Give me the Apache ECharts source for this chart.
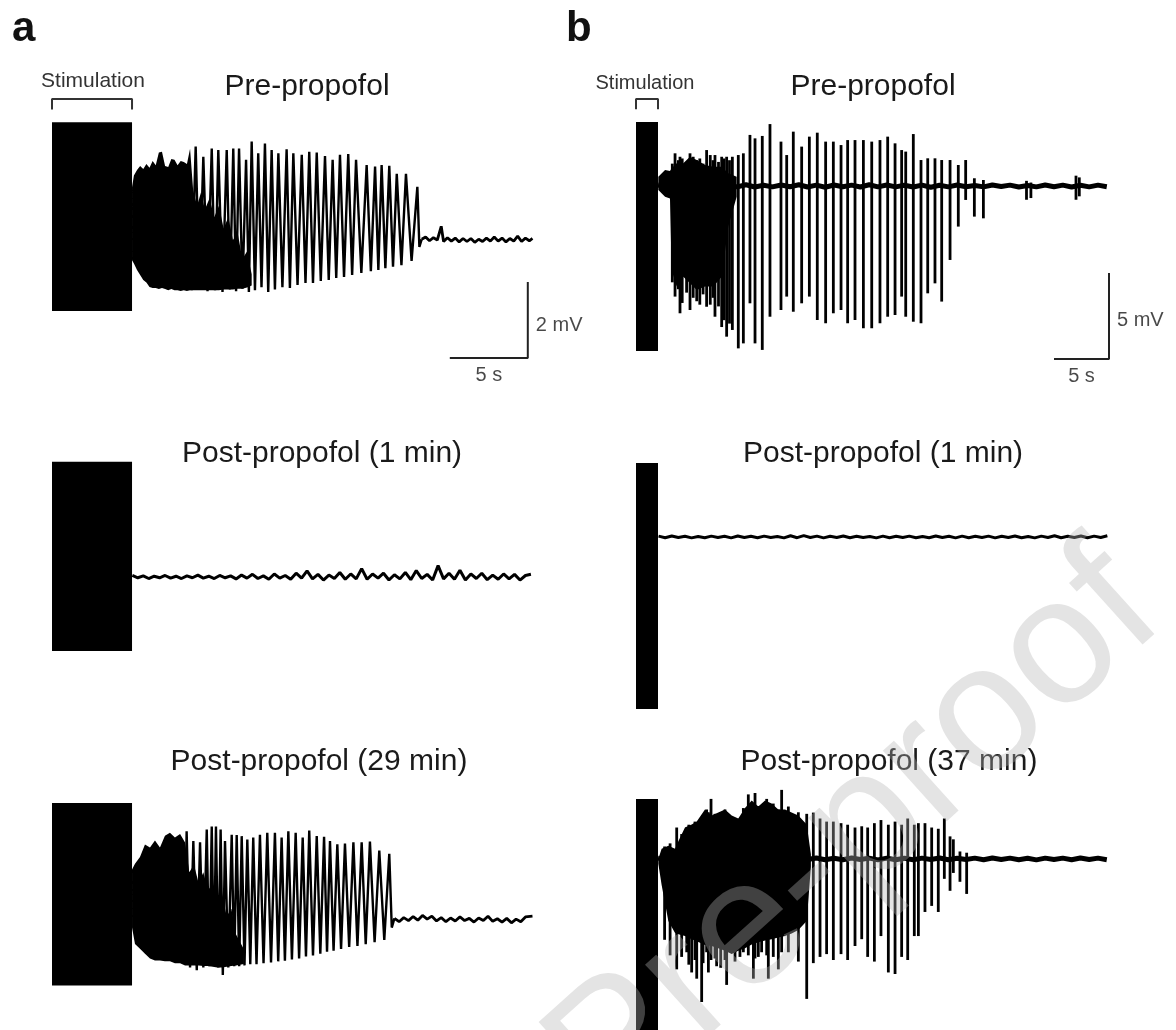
<!DOCTYPE html>
<html>
<head>
<meta charset="utf-8">
<title>Propofol EEG traces</title>
<script src="https://cdn.jsdelivr.net/npm/echarts@6/dist/echarts.min.js"></script>
<style>
  html, body {
    margin: 0;
    padding: 0;
    background: #fff;
  }
  #chart {
    width: 1176px;
    height: 1030px;
  }
</style>
</head>
<body>
<div id="chart"></div>
<script>
// time in s (0 = stimulation onset), amplitude in mV relative to baseline

const panelTitles = ['Pre-propofol', 'Post-propofol (1 min)', 'Post-propofol (29 min)',
  'Pre-propofol', 'Post-propofol (1 min)', 'Post-propofol (37 min)']

// stimulation artefact: [start, end, top, bottom]
const stimBlocks = [
  [0, 5.13, 3.1, -1.87],
  [0, 5.13, 3.03, -1.95],
  [0, 5.13, 3.18, -1.79],
  [0, 2.0, 3.72, -9.59],
  [0, 2.0, 4.3, -10.0],
  [0, 2.0, 3.85, -11.0]
]

// dense after-discharge: [t, upper, lower]
const aPreEnvelope = [
  [5.13, 1.39, -0.53], [5.25, 1.7, -0.62], [5.45, 1.84, -0.79], [5.65, 1.95, -0.92],
  [5.85, 1.87, -1.05], [6.05, 2.0, -1.12], [6.25, 1.9, -1.24], [6.45, 2.08, -1.26],
  [6.65, 1.97, -1.26], [6.85, 2.3, -1.29], [7.05, 2.32, -1.26], [7.25, 1.95, -1.29],
  [7.45, 1.92, -1.32], [7.65, 2.13, -1.29], [7.85, 2.11, -1.32], [8.05, 1.97, -1.32],
  [8.25, 2.08, -1.34], [8.45, 2.05, -1.32], [8.65, 2.0, -1.34], [8.85, 2.4, -1.32],
  [9.05, 1.3, -1.32], [9.3, 0.9, -1.32], [9.55, 1.25, -1.32], [9.8, 0.8, -1.32],
  [10.1, 1.1, -1.32], [10.4, 0.6, -1.32], [10.7, 0.9, -1.32], [11.0, 0.3, -1.3],
  [11.3, 0.6, -1.3], [11.6, 0.0, -1.3], [11.9, 0.2, -1.28], [12.2, -0.5, -1.28],
  [12.5, -0.3, -1.25], [12.8, -0.9, -1.2]
]

const aPost29Envelope = [
  [5.13, 1.37, -0.21], [5.32, 1.53, -0.66], [5.64, 1.71, -0.79], [5.96, 2.05, -0.92],
  [6.28, 1.97, -1.05], [6.6, 2.16, -1.11], [6.92, 1.97, -1.11], [7.24, 2.29, -1.13],
  [7.56, 2.37, -1.13], [7.88, 2.24, -1.18], [8.21, 2.34, -1.18], [8.53, 2.11, -1.24],
  [8.8, 1.3, -1.24], [9.1, 1.5, -1.24], [9.4, 1.0, -1.24], [9.7, 1.3, -1.26],
  [10.0, 0.8, -1.26], [10.3, 1.0, -1.28], [10.6, 0.5, -1.3], [10.9, 0.7, -1.3],
  [11.2, 0.1, -1.28], [11.5, 0.3, -1.26], [11.8, -0.4, -1.24], [12.3, -0.8, -1.2]
]

const bPreEnvelope = [
  [2.03, 0.54, -0.23], [2.64, 0.93, -0.62], [3.09, 0.87, -0.72], [3.24, 1.03, -4.88],
  [3.7, 1.32, -5.85], [4.3, 1.32, -5.27], [4.91, 1.7, -5.66], [5.52, 1.51, -6.05],
  [6.27, 1.22, -5.85], [7.03, 1.12, -5.85], [7.79, 1.12, -5.27], [8.39, 0.74, -2.36],
  [9.15, 0.54, -0.62]
]

const bPost37Envelope = [
  [2.03, 0.0, -0.31], [2.33, 0.66, -1.67], [2.94, 0.85, -3.99], [3.55, 0.66, -4.77],
  [3.85, 1.14, -4.85], [4.45, 2.02, -4.96], [5.06, 2.21, -5.16], [5.52, 2.4, -5.3],
  [6.27, 3.18, -5.54], [6.88, 2.79, -5.6], [7.48, 2.98, -5.74], [8.09, 3.18, -5.9],
  [8.7, 2.79, -6.12], [9.3, 2.6, -5.9], [9.91, 3.27, -5.74], [10.52, 3.76, -5.5],
  [11.12, 3.37, -5.35], [11.73, 3.76, -5.25], [12.33, 3.56, -5.16], [12.94, 3.18, -5.05],
  [13.55, 3.18, -4.96], [14.15, 2.98, -4.8], [14.76, 2.79, -4.57], [15.52, 2.21, -3.99],
  [15.9, 0.3, -0.5]
]

// spike-wave part of the (a) traces: [t, mV]
const aPreSpikes = [
  [8.95, -1.32], [9.21, 2.46], [9.45, -1.3], [9.7, 2.19], [9.97, -1.35], [10.24, 2.41],
  [10.45, -1.32], [10.66, 2.37], [10.93, -1.37], [11.2, 2.37], [11.41, -1.3], [11.62, 2.41],
  [11.8, -1.35], [11.99, 2.41], [12.21, -1.28], [12.44, 2.11], [12.62, -1.37], [12.8, 2.59],
  [13.01, -1.32], [13.22, 2.28], [13.43, -1.24], [13.65, 2.54], [13.86, -1.37], [14.08, 2.37],
  [14.29, -1.3], [14.51, 2.28], [14.77, -1.24], [15.04, 2.39], [15.25, -1.26], [15.47, 2.28],
  [15.74, -1.18], [16.01, 2.24], [16.25, -1.13], [16.49, 2.32], [16.73, -1.13], [16.97, 2.3],
  [17.23, -1.08], [17.5, 2.21], [17.74, -1.05], [17.99, 2.11], [18.22, -1.0], [18.46, 2.24],
  [18.72, -0.97], [18.99, 2.26], [19.24, -0.92], [19.49, 2.11], [19.83, -0.87], [20.17, 1.97],
  [20.44, -0.82], [20.71, 1.93], [20.92, -0.79], [21.13, 1.97], [21.37, -0.74], [21.62, 1.95],
  [21.86, -0.7], [22.1, 1.74], [22.4, -0.66], [22.69, 1.74], [23.05, -0.55], [23.42, 1.4],
  [23.55, -0.18], [23.7, 0.02]
]
// flat tail after the discharge ends
const aPreTail = [
  [23.7, 0.02], [23.95, 0.08], [24.2, -0.02], [24.45, 0.06], [24.7, 0.0],
  [24.95, 0.36], [25.1, -0.04], [25.35, 0.06], [25.6, -0.03], [25.85, 0.05], [26.1, -0.05],
  [26.35, 0.04], [26.6, -0.04], [26.85, 0.04], [27.1, -0.06], [27.35, 0.02], [27.6, -0.04],
  [27.85, 0.05], [28.1, -0.03], [28.35, 0.08], [28.6, -0.03], [28.85, 0.05], [29.1, -0.05],
  [29.35, 0.04], [29.6, -0.03], [29.85, 0.1], [30.1, -0.04], [30.35, 0.05], [30.6, -0.02],
  [30.8, 0.04]
]

const aPost29Spikes = [
  [8.5, -1.2], [8.63, 2.41], [8.85, -1.3], [9.06, 2.15], [9.28, -1.37], [9.49, 2.11],
  [9.7, -1.3], [9.92, 2.46], [10.08, -1.26], [10.24, 2.54], [10.38, -1.24], [10.51, 2.54],
  [10.66, -1.3], [10.81, 2.46], [10.95, -1.5], [11.09, 2.15], [11.3, -1.3], [11.52, 2.32],
  [11.68, -1.26], [11.84, 2.31], [12.0, -1.26], [12.16, 2.28], [12.34, -1.24], [12.52, 2.19],
  [12.71, -1.21], [12.9, 2.24], [13.11, -1.21], [13.33, 2.32], [13.56, -1.18], [13.8, 2.37],
  [14.04, -1.16], [14.29, 2.37], [14.5, -1.13], [14.72, 2.24], [14.93, -1.11], [15.15, 2.41],
  [15.38, -1.08], [15.62, 2.37], [15.84, -1.05], [16.07, 2.24], [16.28, -1.0], [16.49, 2.43],
  [16.73, -0.97], [16.97, 2.28], [17.2, -0.92], [17.44, 2.26], [17.63, -0.87], [17.82, 2.15],
  [18.05, -0.84], [18.29, 2.06], [18.53, -0.79], [18.78, 2.08], [19.05, -0.74], [19.32, 2.11],
  [19.58, -0.71], [19.85, 2.11], [20.11, -0.66], [20.38, 2.13], [20.68, -0.61], [20.98, 1.89],
  [21.3, -0.55], [21.62, 1.8], [21.78, -0.21], [21.95, 0.04]
]
const aPost29Tail = [
  [21.95, 0.04], [22.25, -0.05], [22.55, 0.06], [22.85, -0.02], [23.15, 0.09], [23.45, -0.01],
  [23.75, 0.12], [24.05, 0.02], [24.35, 0.1], [24.65, -0.03], [24.95, 0.06], [25.25, -0.05],
  [25.55, 0.05], [25.85, -0.03], [26.15, 0.08], [26.45, -0.02], [26.75, 0.04], [27.05, -0.06],
  [27.35, 0.05], [27.65, -0.02], [27.95, 0.1], [28.25, -0.04], [28.55, 0.03], [28.85, -0.06],
  [29.15, 0.04], [29.45, -0.08], [29.75, 0.02], [30.05, -0.05], [30.35, 0.08], [30.8, 0.1]
]

// regularly sampled noise traces
const aPost1Start = 5.15
const aPost1Step = 0.35
const aPost1Noise = [
  0.04, -0.02, 0.03, -0.04, 0.02, -0.02, 0.04, -0.03, 0.02, -0.04,
  0.03, -0.02, 0.05, -0.03, 0.02, -0.04, 0.04, -0.02, 0.03, -0.05,
  0.05, -0.03, 0.07, -0.04, 0.03, -0.06, 0.08, -0.03, 0.04, -0.06,
  0.1, -0.03, 0.16, -0.05, 0.07, -0.08, 0.05, -0.04, 0.12, -0.06,
  0.08, -0.05, 0.22, -0.06, 0.08, -0.03, 0.1, -0.08, 0.06, -0.05,
  0.12, -0.07, 0.17, -0.04, 0.07, -0.08, 0.3, -0.05, 0.1, -0.06,
  0.18, -0.08, 0.08, -0.04, 0.1, -0.07, 0.05, -0.06, 0.08, -0.05,
  0.07, -0.08, 0.04, 0.07
]

const bStart = 2.0
const bBaseStep = 0.8
const bPreBaseline = [
  0.06, -0.05, 0.07, -0.04, 0.05, -0.06, 0.04, -0.07, 0.06, -0.05,
  0.07, -0.06, 0.04, -0.05, 0.06, -0.04, 0.07, -0.06, 0.05, -0.07,
  0.06, -0.04, 0.05, -0.06, 0.07, -0.05, 0.06, -0.05, 0.04, -0.06,
  0.05, -0.07, 0.04, -0.05, 0.06, -0.04, 0.03, -0.05, 0.06, -0.03,
  0.05, -0.06, 0.03, -0.05, 0.06, -0.04, 0.05, -0.06, 0.04, -0.05,
  0.05, -0.04
]
const bPost37Baseline = [
  0.05, -0.04, 0.06, -0.05, 0.04, -0.06, 0.05, -0.04, 0.05, -0.05,
  0.06, -0.04, 0.05, -0.06, 0.04, -0.05, 0.05, -0.04, 0.06, -0.05,
  0.04, -0.05, 0.06, -0.04, 0.05, -0.06, 0.05, -0.05, 0.04, -0.05,
  0.05, -0.04, 0.06, -0.05, 0.04, -0.04, 0.05, -0.05, 0.06, -0.04,
  0.05, -0.05, 0.04, -0.06, 0.05, -0.04, 0.05, -0.05, 0.06, -0.04,
  0.05, -0.05
]
const bPost1Start = 2.05
const bPost1Step = 0.6
const bPost1Noise = [
  0.05, -0.04, 0.06, -0.03, 0.04, -0.05, 0.03, -0.04, 0.05, -0.03,
  0.04, -0.05, 0.06, -0.03, 0.04, -0.04, 0.05, -0.03, 0.03, -0.05,
  0.07, -0.04, 0.08, -0.03, 0.05, -0.05, 0.04, -0.03, 0.06, -0.04,
  0.04, -0.03, 0.03, -0.05, 0.05, -0.04, 0.04, -0.03, 0.05, -0.04,
  0.03, -0.04, 0.06, -0.03, 0.04, -0.05, 0.05, -0.04, 0.04, -0.03,
  0.05, -0.05, 0.04, -0.03, 0.06, -0.04, 0.03, -0.05, 0.05, -0.03,
  0.07, -0.04, 0.04, -0.03, 0.06, -0.04, 0.05, -0.03, 0.07
]

// spikes of the (b) traces: [t, peak, trough]
const bPreSpikes = [
  [3.3, 1.3, -5.6], [3.55, 1.9, -6.43], [3.85, 1.5, -6.0], [4.0, 1.7, -7.4],
  [4.2, 1.6, -6.8], [4.6, 1.4, -6.2], [4.91, 1.9, -7.21], [5.2, 1.7, -6.5],
  [5.52, 1.5, -6.7], [5.8, 1.6, -6.9], [6.1, 1.3, -6.3], [6.42, 2.09, -7.02],
  [6.75, 1.8, -6.9], [7.0, 1.5, -6.5], [7.18, 1.8, -7.6], [7.5, 1.4, -7.0],
  [7.79, 1.7, -8.2], [8.0, 1.6, -7.8], [8.24, 1.7, -8.76], [8.5, 1.5, -8.0],
  [8.76, 1.7, -8.37], [9.3, 1.8, -9.44], [9.76, 1.9, -9.15], [10.36, 2.97, -6.82],
  [10.82, 2.77, -9.15], [11.48, 2.91, -9.53], [12.18, 3.6, -7.6], [13.18, 2.58, -7.21],
  [13.7, 1.8, -6.43], [14.3, 3.16, -7.31], [15.06, 2.29, -6.82], [15.76, 2.87, -6.43],
  [16.48, 3.1, -7.79], [17.24, 2.58, -7.98], [17.94, 2.58, -7.4], [18.64, 2.38, -7.21],
  [19.24, 2.67, -7.98], [19.91, 2.67, -7.79], [20.67, 2.67, -8.27], [21.43, 2.58, -8.27],
  [22.18, 2.67, -7.98], [22.88, 2.87, -7.6], [23.55, 2.48, -7.5], [24.15, 2.09, -6.43],
  [24.52, 2.0, -7.6], [25.21, 3.02, -7.89], [25.91, 1.51, -7.98], [26.52, 1.61, -6.24],
  [27.18, 1.61, -5.66], [27.79, 1.51, -6.72], [28.55, 1.51, -4.3], [29.3, 1.22, -2.36],
  [29.97, 1.51, -0.81], [30.76, 0.45, -1.78], [31.58, 0.35, -1.88], [35.5, 0.3, -0.8],
  [35.9, 0.2, -0.7], [40.0, 0.6, -0.8], [40.3, 0.5, -0.6]
]

const bPost37Spikes = [
  [2.6, 0.8, -5.2], [3.1, 1.0, -6.2], [3.7, 2.02, -7.1], [4.15, 1.6, -6.3],
  [4.61, 2.02, -6.0], [4.8, 2.2, -6.8], [5.06, 2.0, -7.3], [5.36, 2.4, -6.5],
  [5.52, 2.3, -7.7], [5.97, 2.6, -9.2], [6.1, 2.8, -6.7], [6.42, 3.18, -6.0],
  [6.58, 3.0, -7.3], [6.82, 3.86, -6.5], [7.18, 2.9, -6.4], [7.33, 2.5, -6.9],
  [7.7, 3.0, -7.0], [8.09, 3.18, -6.5], [8.24, 2.9, -8.1], [9.0, 2.4, -6.6],
  [9.45, 2.6, -6.3], [9.76, 3.27, -6.0], [10.21, 4.15, -6.2], [10.67, 3.2, -7.7],
  [10.82, 4.24, -6.4], [11.12, 3.4, -6.3], [11.42, 3.37, -6.0], [11.88, 3.86, -6.2],
  [12.03, 3.3, -7.7], [12.48, 3.56, -6.3], [12.94, 3.18, -7.1], [13.24, 4.44, -6.0],
  [13.85, 3.37, -6.0], [14.76, 3.0, -6.6], [15.52, 2.9, -9.0], [16.12, 2.98, -6.7],
  [16.73, 2.6, -6.3], [17.33, 2.4, -6.12], [17.94, 2.4, -6.5], [18.64, 2.3, -6.12],
  [19.24, 2.2, -6.5], [19.91, 2.02, -5.6], [20.52, 2.1, -5.16], [21.06, 2.02, -6.3],
  [21.67, 2.3, -6.6], [22.27, 2.5, -4.96], [22.94, 2.2, -7.3], [23.55, 2.4, -7.4],
  [24.15, 2.2, -6.3], [24.7, 2.6, -6.5], [25.3, 2.2, -4.96], [25.67, 2.3, -4.96],
  [26.27, 2.3, -3.41], [26.88, 2.02, -3.02], [27.48, 1.94, -3.41], [28.03, 2.6, -1.28],
  [28.55, 1.45, -2.05], [28.85, 1.26, -0.9], [29.45, 0.48, -1.47], [30.06, 0.4, -2.25]
]

// scale bars: [t0, v0, seconds, mV]
const scaleBarA = [25.5, -3.105, 5, 2]
const scaleBarB = [38.0, -10.06, 5, 5]

// panel layout (pixels per s / per mV and where the baseline sits)
const panels = [
  { left: 52, base: 240, sx: 15.6, sy: 38, tMax: 31, vMin: -3.5, vMax: 4 },
  { left: 52, base: 577, sx: 15.6, sy: 38, tMax: 31, vMin: -3.5, vMax: 4 },
  { left: 52, base: 925, sx: 15.6, sy: 38, tMax: 31, vMin: -3, vMax: 4 },
  { left: 636, base: 186, sx: 11, sy: 17.2, tMax: 43, vMin: -11, vMax: 5.5 },
  { left: 636, base: 537, sx: 11, sy: 17.2, tMax: 43, vMin: -11, vMax: 5.5 },
  { left: 636, base: 868, sx: 11, sy: 17.2, tMax: 43, vMin: -11, vMax: 5.5 }
]
const titleSpots = [[307, 72], [322, 439], [319, 747], [873, 72], [883, 439], [889, 747]]

const FONT = "'Liberation Sans', Arial, sans-serif"
const INK = '#1a1a1a'

const sampled = (start, step, values) => values.map((v, i) => [+(start + i * step).toFixed(2), v])

const axisPair = (i) => ({ xAxisIndex: i, yAxisIndex: i })

const lineSeries = (i, data, width) => ({
  type: 'line', ...axisPair(i), data: data, symbol: 'none', clip: false, z: 3,
  lineStyle: { color: '#000', width: width }, silent: true
})

const blockSeries = (i) => ({
  type: 'custom', ...axisPair(i), clip: false, z: 4, silent: true,
  data: [stimBlocks[i]],
  renderItem: (params, api) => {
    const p1 = api.coord([api.value(0), api.value(2)])
    const p2 = api.coord([api.value(1), api.value(3)])
    return {
      type: 'rect',
      shape: { x: p1[0], y: p1[1], width: p2[0] - p1[0], height: p2[1] - p1[1] },
      style: { fill: '#000' }
    }
  }
})

const envelopeSeries = (i, env) => ({
  type: 'custom', ...axisPair(i), clip: false, z: 2, silent: true,
  data: [[env[0][0], env[0][1]]],
  renderItem: (params, api) => {
    const upper = env.map(p => api.coord([p[0], p[1]]))
    const lower = env.slice().reverse().map(p => api.coord([p[0], p[2]]))
    return { type: 'polygon', shape: { points: upper.concat(lower) }, style: { fill: '#000' } }
  }
})

const spikeSeries = (i, spikes) => ({
  type: 'custom', ...axisPair(i), clip: false, z: 3, silent: true,
  data: spikes,
  renderItem: (params, api) => {
    const top = api.coord([api.value(0), api.value(1)])
    const low = api.coord([api.value(0), api.value(2)])
    return {
      type: 'line',
      shape: { x1: top[0], y1: top[1], x2: low[0], y2: low[1] },
      style: { stroke: '#000', lineWidth: 2.8 }
    }
  }
})

const bracketSeries = (i, height) => {
  const b = stimBlocks[i]
  return {
    type: 'line', ...axisPair(i), symbol: 'none', clip: false, silent: true,
    data: [[b[0], b[2] + height * 0.55], [b[0], b[2] + height], [b[1], b[2] + height], [b[1], b[2] + height * 0.55]],
    lineStyle: { color: '#333', width: 2 }
  }
}

const scaleBarSeries = (i, bar, vLabel, mvLabelAt) => [
  {
    type: 'line', ...axisPair(i), symbol: 'none', clip: false, silent: true,
    data: [[bar[0], bar[1]], [bar[0] + bar[2], bar[1]], [bar[0] + bar[2], bar[1] + bar[3]]],
    lineStyle: { color: '#222', width: 2 }
  },
  {
    type: 'scatter', ...axisPair(i), symbolSize: 0, clip: false, silent: true,
    label: { show: true, color: INK, fontSize: 20, fontFamily: FONT },
    data: [
      { value: [bar[0] + bar[2] / 2, bar[1]], label: { position: 'bottom', distance: 7, formatter: bar[2] + ' s' } },
      { value: [bar[0] + bar[2], mvLabelAt], label: { position: 'right', distance: 8, formatter: vLabel } }
    ]
  }
]

const chart = echarts.init(document.getElementById('chart'), null, { renderer: 'canvas' })

const option = {
  animation: false,
  backgroundColor: '#fff',
  title: [
    ...panelTitles.map((t, i) => ({
      text: t, left: titleSpots[i][0], top: titleSpots[i][1], textAlign: 'center', padding: 0,
      textStyle: { fontFamily: FONT, fontSize: 30, fontWeight: 'normal', color: INK }
    })),
    { text: 'Stimulation', left: 93, top: 71, textAlign: 'center', padding: 0,
      textStyle: { fontFamily: FONT, fontSize: 21, fontWeight: 'normal', color: '#333' } },
    { text: 'Stimulation', left: 645, top: 73, textAlign: 'center', padding: 0,
      textStyle: { fontFamily: FONT, fontSize: 20, fontWeight: 'normal', color: '#333' } },
    { text: 'a', left: 12, top: 8, padding: 0,
      textStyle: { fontFamily: FONT, fontSize: 42, fontWeight: 'bold', color: '#111' } },
    { text: 'b', left: 566, top: 8, padding: 0,
      textStyle: { fontFamily: FONT, fontSize: 42, fontWeight: 'bold', color: '#111' } }
  ],
  grid: panels.map(p => ({
    left: p.left, top: p.base - p.vMax * p.sy, width: p.tMax * p.sx, height: (p.vMax - p.vMin) * p.sy
  })),
  xAxis: panels.map((p, i) => ({ type: 'value', gridIndex: i, min: 0, max: p.tMax, show: false })),
  yAxis: panels.map((p, i) => ({ type: 'value', gridIndex: i, min: p.vMin, max: p.vMax, show: false })),
  series: [
    ...stimBlocks.map((b, i) => blockSeries(i)),
    envelopeSeries(0, aPreEnvelope),
    envelopeSeries(2, aPost29Envelope),
    envelopeSeries(3, bPreEnvelope),
    envelopeSeries(5, bPost37Envelope),
    lineSeries(0, aPreSpikes, 2.4),
    lineSeries(0, aPreTail, 2.8),
    lineSeries(1, sampled(aPost1Start, aPost1Step, aPost1Noise), 3),
    lineSeries(2, aPost29Spikes, 2.4),
    lineSeries(2, aPost29Tail, 2.8),
    lineSeries(3, sampled(bStart, bBaseStep, bPreBaseline), 5),
    lineSeries(4, sampled(bPost1Start, bPost1Step, bPost1Noise), 3),
    lineSeries(5, sampled(bStart, bBaseStep, bPost37Baseline), 5),
    spikeSeries(3, bPreSpikes),
    spikeSeries(5, bPost37Spikes),
    bracketSeries(0, 0.61),
    bracketSeries(3, 1.34),
    ...scaleBarSeries(0, scaleBarA, '2 mV', -2.24),
    ...scaleBarSeries(3, scaleBarB, '5 mV', -7.8)
  ],
  graphic: [
    {
      type: 'text', x: 856, y: 836, rotation: 42 * Math.PI / 180, z: 100, silent: true,
      style: {
        text: 'Pre-proof', fontFamily: FONT, fontSize: 180,
        fill: 'rgba(179,179,179,0.36)', textAlign: 'center', textVerticalAlign: 'middle'
      }
    }
  ]
}

chart.setOption(option)

window.addEventListener('resize', () => chart.resize())
</script>
</body>
</html>
